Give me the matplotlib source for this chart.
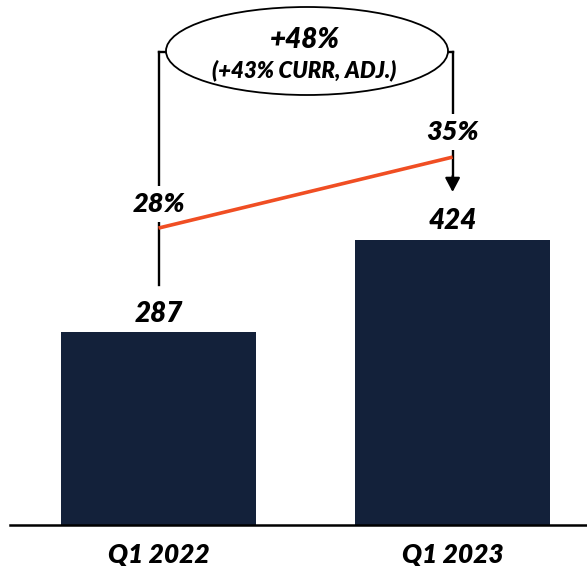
import matplotlib
matplotlib.use("Agg")
import matplotlib.pyplot as plt
from matplotlib.patches import Ellipse

categories = ["Q1 2022", "Q1 2023"]
values = [287, 424]
margins = [28, 35]
margin_labels = ["28%", "35%"]
growth_main = "+48%"
growth_sub = "(+43% CURR, ADJ.)"

W, H = 587, 566
BAR = "#13213A"
ORANGE = "#F04E23"
FONT = dict(family=["Lato", "DejaVu Sans"], weight="heavy", style="italic", color="black")

fig = plt.figure(figsize=(W / 100, H / 100), dpi=100)
ax = fig.add_axes([0, 0, 1, 1])
ax.set_xlim(-0.539, 1.457)
ax.set_ylim(-41 / 0.6725, (H - 41) / 0.6725)
ax.axis("off")

x = list(range(len(categories)))
ax.bar(x, values, width=0.663, color=BAR, zorder=2)

ax2 = ax.twinx()
ax2.set_ylim(-54 / 10.14, (H - 54) / 10.14)
ax2.axis("off")
ax2.plot(x, margins, color=ORANGE, lw=2.6, solid_capstyle="butt", zorder=3)

def fy(py):
    return 1 - py / H

def fx(px):
    return px / W

tr = ax.get_xaxis_transform()  # x in data, y in axes fraction
# baseline axis line
ax.plot([fx(10), 1], [fy(525), fy(525)], color="black", lw=1.8, transform=ax.transAxes, zorder=4, clip_on=False)

# bracket
ax.plot([0, 0], [fy(285), fy(52)], color="black", lw=1.7, transform=tr, zorder=1)
ax.plot([1, 1], [fy(52), fy(180)], color="black", lw=1.7, transform=tr, zorder=1)
ax.plot([0, 1], [fy(52), fy(52)], color="black", lw=1.7, transform=tr, zorder=1)
ax.annotate("", xy=(1, fy(192)), xytext=(1, fy(176)), xycoords=tr, textcoords=tr,
            arrowprops=dict(arrowstyle="-|>,head_length=0.85,head_width=0.45", color="black", lw=1.6,
                            shrinkA=0, shrinkB=0), zorder=5)

ell = Ellipse((fx(307), fy(51)), 282 / W, 88 / H, transform=ax.transAxes,
              facecolor="white", edgecolor="black", lw=1.3, zorder=6)
ax.add_patch(ell)
ax.text(fx(305), fy(48), growth_main, transform=ax.transAxes, ha="center", va="baseline",
        fontsize=20, zorder=7, **FONT)
ax.text(fx(304), fy(77), growth_sub, transform=ax.transAxes, ha="center", va="baseline",
        fontsize=16, zorder=7, **FONT)

# margin labels with white backgrounds to break the bracket lines
bbox = dict(facecolor="white", edgecolor="none", pad=4)
ax.text(0, fy(212), margin_labels[0], transform=tr, ha="center", va="baseline",
        fontsize=19.5, bbox=bbox, zorder=8, **FONT)
ax.text(1, fy(140), margin_labels[1], transform=tr, ha="center", va="baseline",
        fontsize=19.5, bbox=bbox, zorder=8, **FONT)

# value labels
for xi, v in zip(x, values):
    ax.annotate(str(v), (xi, v), xytext=(0, 7.5), textcoords="offset points",
                ha="center", va="baseline", fontsize=20, zorder=8, **FONT)

for xi, c in zip(x, categories):
    ax.text(xi, fy(563), c, transform=tr, ha="center", va="baseline", fontsize=19, **FONT)

fig.savefig("out.png", dpi=100)
